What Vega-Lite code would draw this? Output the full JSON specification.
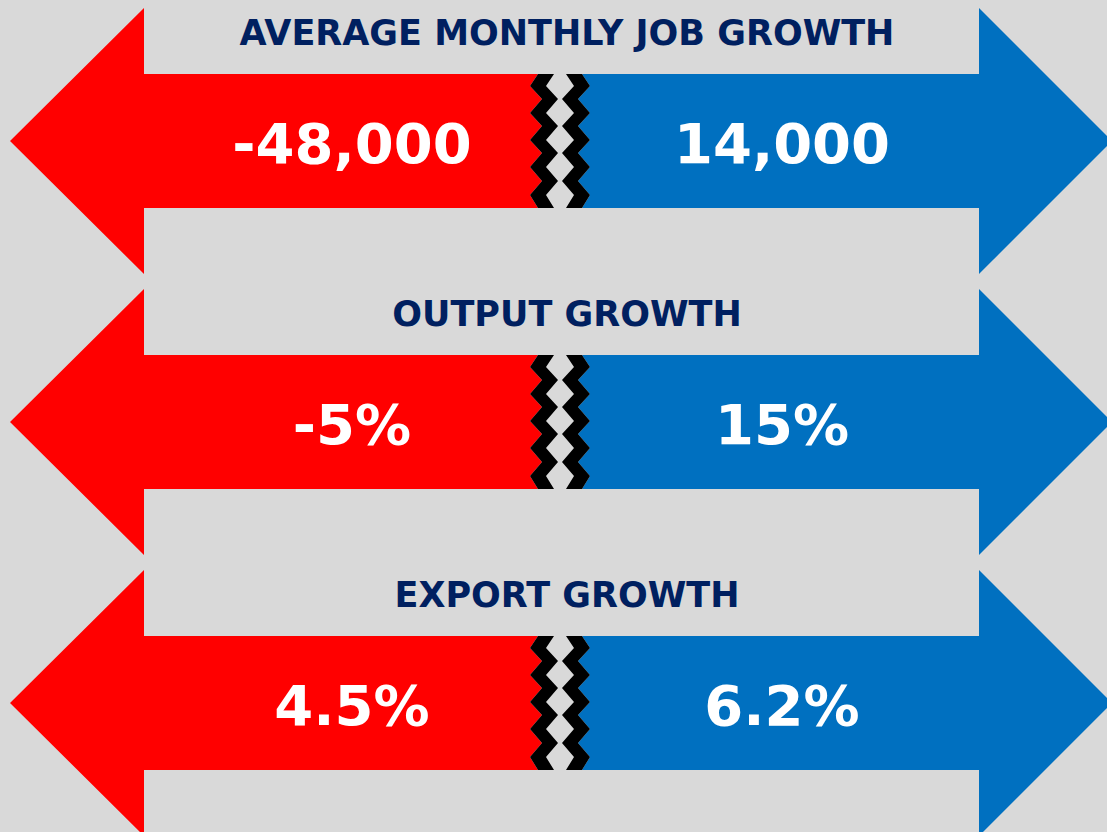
{
  "$schema": "https://vega.github.io/schema/vega-lite/v6.json",
  "width": 1107,
  "height": 832,
  "padding": 0,
  "autosize": {"type": "none"},
  "background": "#d9d9d9",
  "config": {"view": {"stroke": null}},
  "encoding": {
    "x": {"field": "dir", "type": "quantitative", "scale": {"domain": [-2.6372, 2.5116], "nice": false, "zero": false}, "axis": null},
    "y": {"field": "row", "type": "quantitative", "scale": {"domain": [0.4982, 3.4591], "nice": false, "zero": false, "reverse": true}, "axis": null}
  },
  "layer": [
    {
      "data": {"values": [
        {"row": 1, "side": "left", "dir": -1, "label": "-48,000"},
        {"row": 1, "side": "right", "dir": 1, "label": "14,000"},
        {"row": 2, "side": "left", "dir": -1, "label": "-5%"},
        {"row": 2, "side": "right", "dir": 1, "label": "15%"},
        {"row": 3, "side": "left", "dir": -1, "label": "4.5%"},
        {"row": 3, "side": "right", "dir": 1, "label": "6.2%"}
      ]},
      "layer": [
        {
          "transform": [{"filter": "datum.side === 'left'"}],
          "mark": {"type": "point", "size": 4, "filled": true, "opacity": 1, "strokeWidth": 0, "color": "#ff0000",
            "shape": "M-342,0L-208,-133L-208,-67L186,-67L178,-55L190,-42L178,-28L190,-15L178,-1L190,12L178,26L190,40L178,54L186,67L-208,67L-208,133Z"}
        },
        {
          "transform": [{"filter": "datum.side === 'right'"}],
          "mark": {"type": "point", "size": 4, "filled": true, "opacity": 1, "strokeWidth": 0, "color": "#0070c0",
            "shape": "M330,0L197,-133L197,-67L-200,-67L-192,-55L-204,-42L-192,-28L-204,-15L-192,-1L-204,12L-192,26L-204,40L-192,54L-200,67L197,67L197,133Z"}
        },
        {
          "transform": [{"filter": "datum.side === 'left'"}],
          "mark": {"type": "point", "size": 4, "filled": true, "opacity": 1, "strokeWidth": 0, "color": "#000000",
            "shape": "M186,-67L178,-55L190,-42L178,-28L190,-15L178,-1L190,12L178,26L190,40L178,54L186,67L202,67L194,54L206,40L194,26L206,12L194,-1L206,-15L194,-28L206,-42L194,-55L202,-67Z"}
        },
        {
          "transform": [{"filter": "datum.side === 'right'"}],
          "mark": {"type": "point", "size": 4, "filled": true, "opacity": 1, "strokeWidth": 0, "color": "#000000",
            "shape": "M-200,-67L-192,-55L-204,-42L-192,-28L-204,-15L-192,-1L-204,12L-192,26L-204,40L-192,54L-200,67L-216,67L-208,54L-220,40L-208,26L-220,12L-208,-1L-220,-15L-208,-28L-220,-42L-208,-55L-216,-67Z"}
        },
        {
          "mark": {"type": "text", "font": "DejaVu Sans", "fontWeight": "bold", "fontSize": 56, "color": "#ffffff", "baseline": "alphabetic", "align": "center", "dy": 22},
          "encoding": {"text": {"field": "label", "type": "nominal"}}
        }
      ]
    },
    {
      "data": {"values": [
        {"row": 1, "dir": 0, "title": "AVERAGE MONTHLY JOB GROWTH"},
        {"row": 2, "dir": 0, "title": "OUTPUT GROWTH"},
        {"row": 3, "dir": 0, "title": "EXPORT GROWTH"}
      ]},
      "mark": {"type": "text", "font": "DejaVu Sans", "fontWeight": "bold", "fontSize": 35, "color": "#002060", "baseline": "alphabetic", "align": "center", "dy": -96},
      "encoding": {
        "text": {"field": "title", "type": "nominal"}
      }
    }
  ]
}
